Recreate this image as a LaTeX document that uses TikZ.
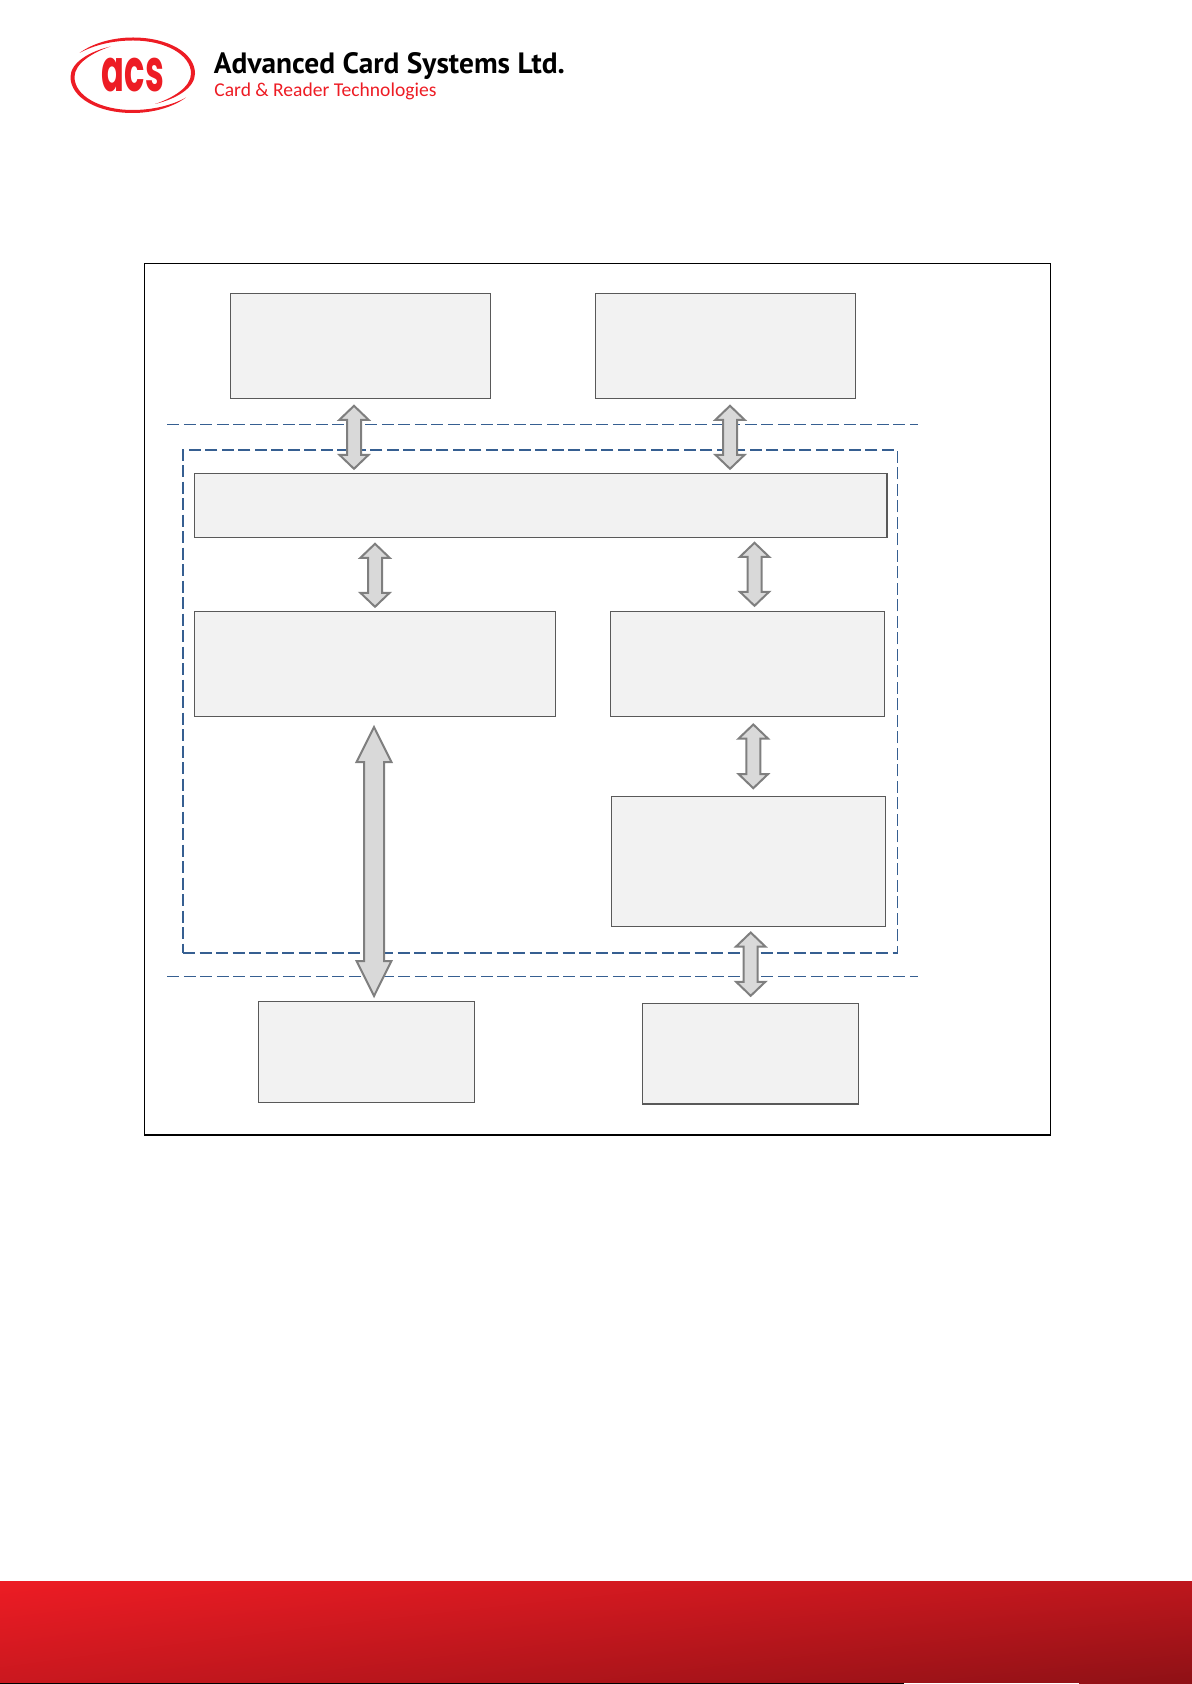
\documentclass[tikz,border=0pt]{standalone}
\usepackage{fontspec}
\setmainfont{PT Sans}
\newfontfamily\logofont{Poppins}
\newfontfamily\slogfont{Carlito}
\usetikzlibrary{calc,shadings}
\definecolor{acsred}{HTML}{ED1C24}
\definecolor{boxfill}{HTML}{F2F2F2}
\definecolor{boxline}{HTML}{595959}
\definecolor{arrowfill}{HTML}{D9D9D9}
\definecolor{arrowline}{HTML}{7F7F7F}
\definecolor{dashblue}{HTML}{365F91}
\tikzset{
  boxnode/.style={draw=boxline, fill=boxfill, line width=0.7pt, inner sep=0pt, outer sep=0pt},
  framenode/.style={draw=black, line width=0.75pt, inner sep=0pt, outer sep=0pt},
  dashnode/.style={draw=dashblue, line width=0.8pt, dash pattern=on 6pt off 2.25pt, inner sep=0pt, outer sep=0pt},
  dashrule/.style={draw=dashblue, line width=0.55pt, dash pattern=on 6pt off 2.25pt},
  blockarrow/.style n args={3}{draw=arrowline, fill=arrowfill, line width=1pt, line join=miter,
    to path={let \p1=(\tikztostart), \p2=(\tikztotarget) in
      (\p1) -- (\x1+#1,\y1-#3) -- (\x1+#2,\y1-#3) -- (\x1+#2,\y2+#3) -- (\x1+#1,\y2+#3)
      -- (\p2) -- (\x1-#1,\y2+#3) -- (\x1-#2,\y2+#3) -- (\x1-#2,\y1-#3) -- (\x1-#1,\y1-#3) -- cycle}},
  smallarrow/.style={blockarrow={7.3pt}{3.5pt}{7pt}},
  bigarrow/.style={blockarrow={8.7pt}{5pt}{17.5pt}}
}
\newcommand{\logoarc}{%
  \fill[acsred] (79.5,53) .. controls (93,43) and (113,37.5) .. (133,37.5)
    .. controls (168,37.5) and (195,53) .. (195,73.5)
    .. controls (195,88) and (176,99) .. (155,104)
    .. controls (173,98) and (191,87) .. (191,73.5)
    .. controls (191,55) and (166,40.5) .. (133,40.5)
    .. controls (113,40.5) and (94,45) .. (79.5,53) -- cycle;}
\begin{document}
\begin{tikzpicture}[x=0.5pt,y=-0.5pt]
\useasboundingbox (0,0) rectangle (1192,1684);
% logo
\logoarc
\begin{scope}[rotate around={180:(132.75,75.25)}]
\logoarc
\end{scope}
\node[text=acsred, inner sep=0pt, anchor=center] (logoacs) at (132.8,75)
  {\resizebox{31pt}{16.7pt}{\logofont\bfseries acs}};
\node[inner sep=0pt, anchor=base west] (company) at (213.5,73.3)
  {\resizebox{175.5pt}{!}{\bfseries Advanced Card Systems Ltd.}};
\node[text=acsred, inner sep=0pt, anchor=base west] (slogan) at (214,96.7)
  {\resizebox{111pt}{!}{\slogfont Card \& Reader Technologies}};
% frame
\node[framenode, minimum width=453pt, minimum height=435.8pt] (frame) at (597.3,699.2) {};
% dashed layers
\coordinate (upperl) at (167.3,424.3);
\coordinate (upperr) at (917.7,424.3);
\coordinate (lowerl) at (167.3,976.3);
\coordinate (lowerr) at (917.7,976.3);
\draw[dashrule] (upperl) -- (upperr);
\draw[dashrule] (lowerl) -- (lowerr);
\node[dashnode, minimum width=357.2pt, minimum height=251.5pt] (core) at (540.2,701.5) {};
% blocks
\node[boxnode, minimum width=130pt, minimum height=52.5pt] (topl) at (360.3,345.8) {};
\node[boxnode, minimum width=130pt, minimum height=52.5pt] (topr) at (725.6,345.8) {};
\node[boxnode, minimum width=346.1pt, minimum height=32.2pt] (bus) at (540.8,505.5) {};
\node[boxnode, minimum width=180.3pt, minimum height=52.5pt] (midl) at (375,663.8) {};
\node[boxnode, minimum width=137.2pt, minimum height=52.5pt] (midr) at (747.5,663.8) {};
\node[boxnode, minimum width=137pt, minimum height=65pt] (lowr) at (748.3,861.7) {};
\node[boxnode, minimum width=108pt, minimum height=50.5pt] (botl) at (366.3,1051.8) {};
\node[boxnode, minimum width=108.2pt, minimum height=50.3pt] (botr) at (750.5,1053.7) {};
% arrow ends
\coordinate (topla) at (354,405.8);
\coordinate (toplb) at (354,468.8);
\coordinate (topra) at (730,405.8);
\coordinate (toprb) at (730,468.8);
\coordinate (busla) at (375,543.8);
\coordinate (buslb) at (375,606.8);
\coordinate (busra) at (754.5,542.8);
\coordinate (busrb) at (754.5,605.8);
\coordinate (midra) at (753.3,724.5);
\coordinate (midrb) at (753.3,788.2);
\coordinate (lowra) at (750.7,932.5);
\coordinate (lowrb) at (750.7,995.8);
\coordinate (midla) at (374,727);
\coordinate (midlb) at (374,996);
% arrows
\draw[smallarrow] (topla) to (toplb);
\draw[smallarrow] (topra) to (toprb);
\draw[smallarrow] (busla) to (buslb);
\draw[smallarrow] (busra) to (busrb);
\draw[smallarrow] (midra) to (midrb);
\draw[smallarrow] (lowra) to (lowrb);
\draw[bigarrow] (midla) to (midlb);
% footer
\shade[shading=bilinear interpolation, upper left=acsred, upper right=acsred!80!black,
  lower left=acsred!85!black, lower right=acsred!60!black] (0,1581) rectangle (1192,1684);
\fill[black] (0,1683) rectangle (904,1684);
\fill[white] (904,1683) rectangle (1079,1684);
\end{tikzpicture}
\end{document}
